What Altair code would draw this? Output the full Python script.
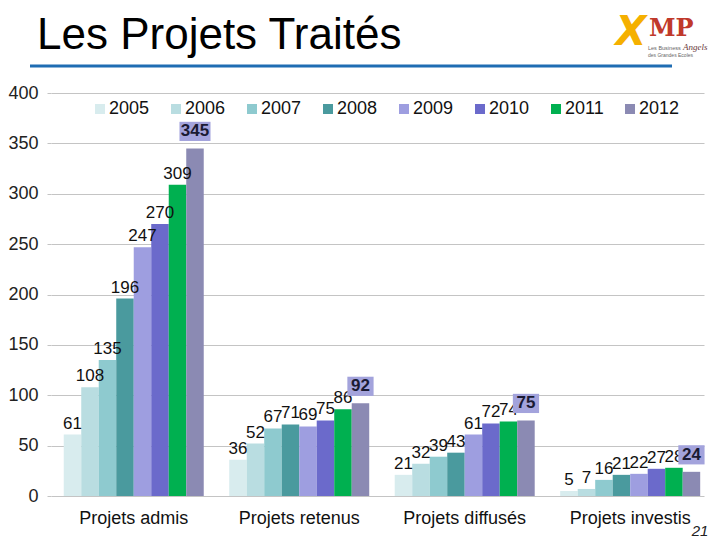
import altair as alt
import pandas as pd

categories = ["Projets admis", "Projets retenus", "Projets diffusés", "Projets investis"]
years = ["2005", "2006", "2007", "2008", "2009", "2010", "2011", "2012"]
admis = [61, 108, 135, 196, 247, 270, 309, 345]
retenus = [36, 52, 67, 71, 69, 75, 86, 92]
diffuses = [21, 32, 39, 43, 61, 72, 74, 75]
investis = [5, 7, 16, 21, 22, 27, 28, 24]
colors = ["#d8ecee", "#b9dde1", "#8ecacf", "#4a9a9e", "#9e9ee0", "#6b6acb", "#00b050", "#8b8ab3"]
y_ticks = [0, 50, 100, 150, 200, 250, 300, 350, 400]

FONT = "Liberation Sans"

rows = []
for cat, vals in zip(categories, [admis, retenus, diffuses, investis]):
    for yr, v in zip(years, vals):
        rows.append({"categorie": cat, "annee": yr, "valeur": v})
df = pd.DataFrame(rows)

base = alt.Chart(df).encode(
    x=alt.X(
        "categorie:N",
        sort=categories,
        scale=alt.Scale(paddingInner=0.154, paddingOuter=0.05, align=0.77),
        axis=alt.Axis(title=None, labelAngle=0, labelFontSize=18, labelFont=FONT,
                      labelPadding=13, domain=False, ticks=False, labelColor="#111111"),
    ),
    xOffset=alt.XOffset("annee:N", sort=years, scale=alt.Scale(paddingInner=0, paddingOuter=0)),
    y=alt.Y(
        "valeur:Q",
        scale=alt.Scale(domain=[0, 400], nice=False),
        axis=alt.Axis(title=None, values=y_ticks, labelFontSize=18, labelFont=FONT,
                      labelColor="#222222", domain=False, tickSize=4, tickColor="#c4c4c4",
                      labelPadding=9, gridColor="#c4c4c4", gridWidth=1),
    ),
)

bars = base.mark_bar().encode(
    color=alt.Color(
        "annee:N",
        sort=years,
        scale=alt.Scale(domain=years, range=colors),
        legend=alt.Legend(orient="none", legendX=40, legendY=7, direction="horizontal",
                          columns=8, title=None, symbolType="square", symbolSize=100,
                          labelFontSize=18, labelFont=FONT, labelColor="#111111",
                          columnPadding=17, labelOffset=0, symbolStrokeWidth=0, padding=0),
    )
)

labels = base.transform_filter("datum.annee != '2012'").mark_text(
    dy=-6, baseline="alphabetic", fontSize=17, font=FONT, color="#111111"
).encode(text="valeur:Q")

wide = "M-0.97,-0.6L0.97,-0.6L0.97,0.6L-0.97,0.6Z"
narrow = "M-0.82,-0.6L0.82,-0.6L0.82,0.6L-0.82,0.6Z"
boxes = base.transform_filter("datum.annee == '2012'").mark_point(
    filled=True, size=1024, yOffset=-17, opacity=1, color="#a3a3dc", strokeWidth=0
).encode(shape=alt.condition("datum.valeur >= 100", alt.value(wide), alt.value(narrow)))

bold_labels = base.transform_filter("datum.annee == '2012'").mark_text(
    dy=-17, baseline="middle", fontSize=17, font=FONT, fontWeight="bold", color="#1a1a33"
).encode(text="valeur:Q")

one = pd.DataFrame({"k": [0]})


def deco(text, x, y, **kw):
    return alt.Chart(one).mark_text(**kw).encode(
        x=alt.value(x), y=alt.value(y), text=alt.value(text)
    )


title = deco("Les Projets Traités", -14, -44, align="left", baseline="alphabetic",
             fontSize=44, font=FONT, color="#000000")
line = alt.Chart(one).mark_rule(color="#1f6db3", strokeWidth=3).encode(
    x=alt.value(-21), x2=alt.value(621), y=alt.value(-27)
)
logo_x = deco("X", 580, -48, align="center", baseline="alphabetic", fontSize=40,
              font="DejaVu Sans", fontWeight="bold", fontStyle="italic", color="#f5b000")
logo_mp = deco("MP", 598, -57, align="left", baseline="alphabetic", fontSize=24,
               font="DejaVu Serif", fontWeight="bold", color="#c0392b")
logo_b = deco("Les Business", 597, -43, align="left", baseline="alphabetic", fontSize=5.5,
              font=FONT, color="#666666")
logo_a = deco("Angels", 632, -43, align="left", baseline="alphabetic", fontSize=9,
              font="Liberation Serif", fontStyle="italic", color="#6b3b3b")
logo_g = deco("des Grandes Ecoles", 597, -36, align="left", baseline="alphabetic", fontSize=5,
              font=FONT, color="#666666")
page = deco("21", 649, 443, align="center", baseline="alphabetic", fontSize=15,
            font=FONT, fontStyle="italic", color="#222222")

chart = alt.layer(
    bars, labels, boxes, bold_labels, title, line, logo_x, logo_mp, logo_b, logo_a, logo_g, page
).properties(
    width=653, height=403,
    autosize=alt.AutoSizeParams(type="none"),
    padding={"left": 43, "top": 85, "right": 8, "bottom": 44},
    background="white",
).configure_view(stroke=None)

chart.save("out.html", embed_options={"renderer": "svg", "actions": False})
